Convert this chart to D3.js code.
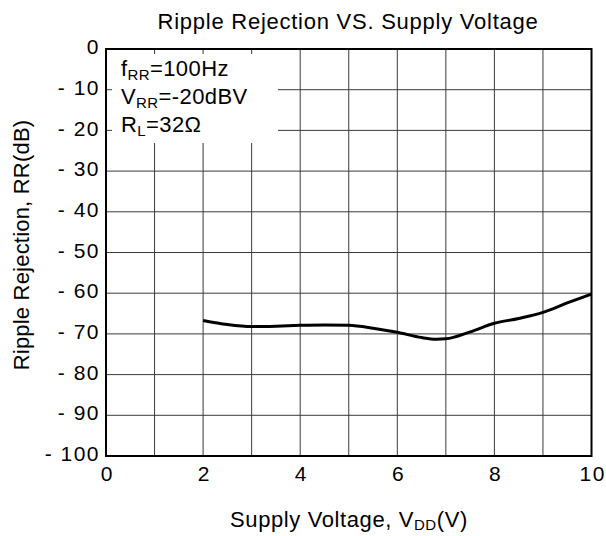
<!DOCTYPE html>
<html><head><meta charset="utf-8">
<script src="https://cdn.jsdelivr.net/npm/d3@7"></script>
<style>body{margin:0;background:#fff}svg{display:block}text{font-family:"Liberation Sans",Arial,sans-serif;fill:#000}</style>
</head><body>
<svg id="c" width="606" height="536"></svg>
<script>
const vdd = [2.0, 2.5, 3.0, 3.5, 4.0, 4.5, 5.0, 5.5, 6.0, 6.5, 6.8, 7.0, 7.5, 8.0, 8.5, 9.0, 9.5, 10.0];
const rr  = [-66.7, -67.7, -68.2, -68.1, -67.9, -67.8, -67.9, -68.6, -69.6, -70.9, -71.3, -71.2, -69.5, -67.4, -66.2, -64.7, -62.4, -60.2];
const xTicks = [0, 2, 4, 6, 8, 10];
const yTicks = [0, -10, -20, -30, -40, -50, -60, -70, -80, -90, -100];

const svg = d3.select("#c");
const L = 106, R = 591.5, T = 49, B = 456;
const x = d3.scaleLinear().domain([0, 10]).range([L, R]);
const y = d3.scaleLinear().domain([0, -100]).range([T, B]);

// grid
const g = svg.append("g");
g.selectAll(".vg").data(d3.range(1, 10)).join("line")
  .attr("x1", d => x(d)).attr("x2", d => x(d)).attr("y1", T).attr("y2", B)
  .attr("stroke", "#3a3a3a").attr("stroke-width", 1);
g.selectAll(".hg").data(d3.range(-10, -100, -10)).join("line")
  .attr("x1", L).attr("x2", R).attr("y1", d => y(d)).attr("y2", d => y(d))
  .attr("stroke", "#3a3a3a").attr("stroke-width", 1);

// legend box
svg.append("rect").attr("x", 112).attr("y", 54).attr("width", 166).attr("height", 89).attr("fill", "#fff");

// frame
svg.append("rect").attr("x", L).attr("y", T).attr("width", R - L).attr("height", B - T)
  .attr("fill", "none").attr("stroke", "#000").attr("stroke-width", 2);

// curve
const line = d3.line().x((d, i) => x(vdd[i])).y(d => y(d)).curve(d3.curveMonotoneX);
svg.append("path").attr("d", line(rr)).attr("fill", "none").attr("stroke", "#000").attr("stroke-width", 3);

// axes
const ax = svg.append("g").attr("transform", `translate(0,${B})`)
  .call(d3.axisBottom(x).tickValues(xTicks).tickSize(0).tickPadding(0).tickFormat(d3.format("d")));
ax.select(".domain").remove();
ax.selectAll("text").attr("font-size", 21).attr("fill", "#000").attr("letter-spacing", 1.5)
  .attr("font-family", "Liberation Sans, Arial, sans-serif").attr("dy", null).attr("y", 25).attr("dx", 0.75);

const ay = svg.append("g").attr("transform", `translate(${L},0)`)
  .call(d3.axisLeft(y).tickValues(yTicks).tickSize(0).tickPadding(6).tickFormat(d => d === 0 ? "0" : "-\u00a0" + Math.abs(d)));
ay.select(".domain").remove();
ay.selectAll("text").attr("font-size", 21).attr("fill", "#000").attr("letter-spacing", 1.5)
  .attr("font-family", "Liberation Sans, Arial, sans-serif").attr("dy", "0.22em");

// title
svg.append("text").attr("x", 348).attr("y", 29).attr("text-anchor", "middle").attr("font-size", 22)
  .attr("letter-spacing", 0.75).text("Ripple Rejection VS. Supply Voltage");

// x title
const xt = svg.append("text").attr("x", 349).attr("y", 527).attr("text-anchor", "middle").attr("font-size", 22).attr("letter-spacing", 0.6);
xt.append("tspan").text("Supply Voltage, V");
xt.append("tspan").attr("font-size", 15).attr("dy", 3).text("DD");
xt.append("tspan").attr("dy", -3).text("(V)");

// y title
svg.append("text").attr("transform", `translate(29,245) rotate(-90)`).attr("text-anchor", "middle")
  .attr("font-size", 22).attr("letter-spacing", 0.2).text("Ripple Rejection, RR(dB)");

// legend
const leg = [["f", "RR", "=100Hz"], ["V", "RR", "=-20dBV"], ["R", "L", "=32Ω"]];
leg.forEach((d, i) => {
  const t = svg.append("text").attr("x", 121).attr("y", 76 + i * 28).attr("font-size", 22).attr("letter-spacing", 0.4);
  t.append("tspan").text(d[0]);
  t.append("tspan").attr("font-size", 15).attr("dy", 4).text(d[1]);
  t.append("tspan").attr("dy", -4).text(d[2]);
});
</script>
</body></html>
